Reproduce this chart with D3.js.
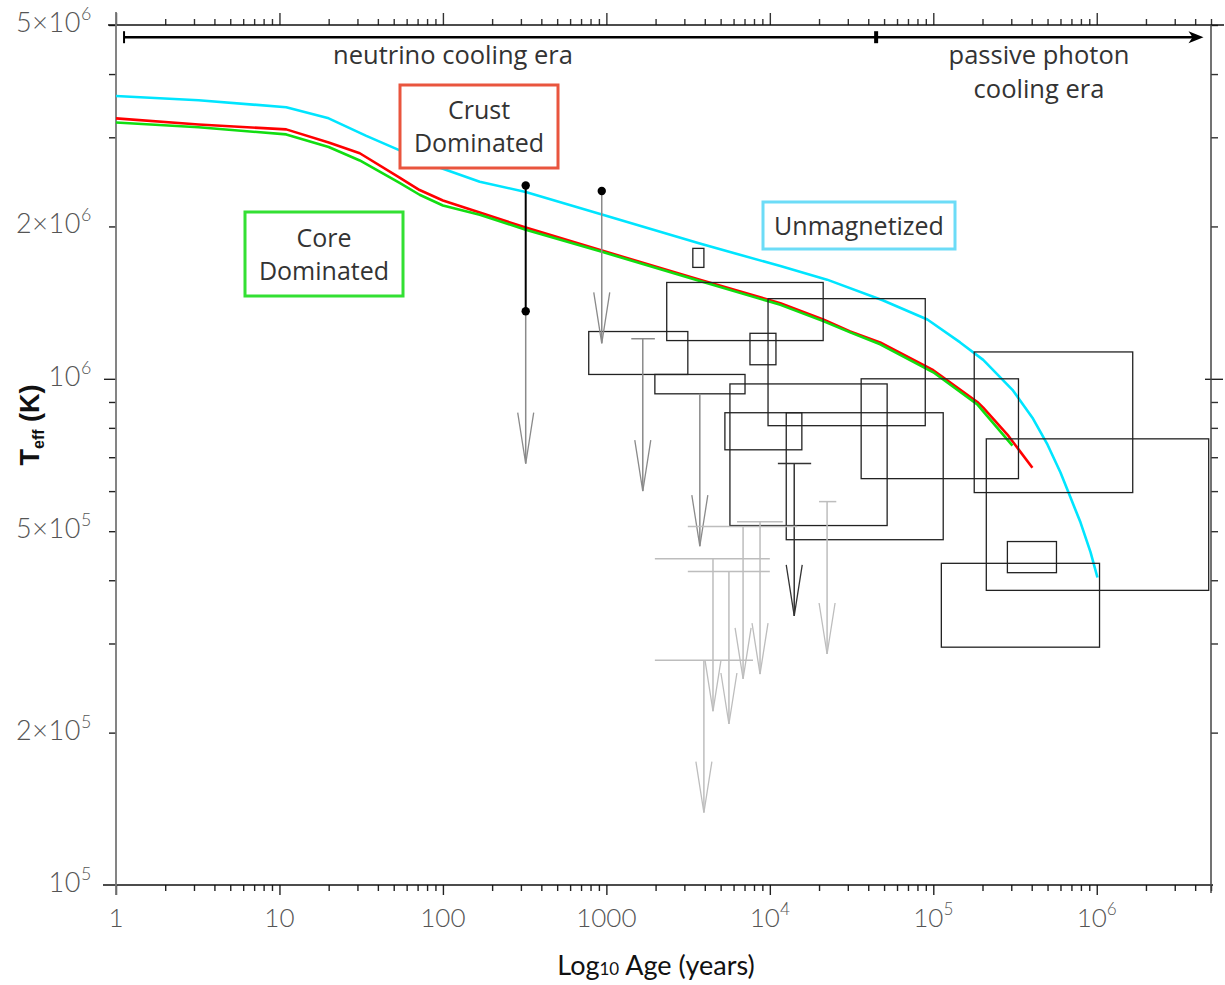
<!DOCTYPE html>
<html><head><meta charset="utf-8">
<script src="https://cdn.jsdelivr.net/npm/d3@7"></script>
<style>body{margin:0;background:#fff}</style>
</head><body>
<svg id="c" width="1225" height="985"></svg>
<script>
// ---------- data ----------
const unmagAge = [1, 3.2, 11, 20, 34, 54, 72, 100, 168, 321, 950, 3730, 11600, 22400, 49000, 92000, 146000, 202000, 305000, 404000, 500000, 600000, 672000, 796000, 917000, 1010000];
const unmagT   = [3.62e6, 3.55e6, 3.44e6, 3.27e6, 3.02e6, 2.83e6, 2.70e6, 2.60e6, 2.45e6, 2.34e6, 2.11e6, 1.85e6, 1.67e6, 1.57e6, 1.43e6, 1.31e6, 1.18e6, 1.09e6, 9.51e5, 8.38e5, 7.41e5, 6.53e5, 5.96e5, 5.2e5, 4.54e5, 4.05e5];

const crustAge = [1, 3.2, 11, 20, 31, 54, 72, 100, 168, 321, 950, 3730, 11600, 21200, 31000, 47300, 100000, 186000, 202000, 284000, 404000];
const crustT   = [3.27e6, 3.18e6, 3.11e6, 2.93e6, 2.79e6, 2.50e6, 2.36e6, 2.25e6, 2.13e6, 1.99e6, 1.79e6, 1.57e6, 1.41e6, 1.31e6, 1.24e6, 1.18e6, 1.04e6, 9.0e5, 8.77e5, 7.76e5, 6.67e5];

const coreAge = [1, 3.2, 11, 20, 31, 54, 72, 100, 168, 321, 950, 3730, 11600, 21200, 31000, 47300, 100000, 186000, 202000, 305000];
const coreT   = [3.21e6, 3.14e6, 3.04e6, 2.87e6, 2.70e6, 2.44e6, 2.31e6, 2.20e6, 2.11e6, 1.97e6, 1.78e6, 1.56e6, 1.40e6, 1.30e6, 1.235e6, 1.17e6, 1.03e6, 8.9e5, 8.62e5, 7.38e5];

// error boxes: age range and temperature range
const boxAgeLo = [3380, 2340, 780, 1980, 7560, 9750, 5700, 5310, 12600, 36200, 178000, 211000, 284000, 112000];
const boxAgeHi = [3950, 21200, 3150, 7050, 10900, 89300, 52200, 15700, 115000, 332000, 1660000, 4840000, 567000, 1040000];
const boxTLo   = [1.66e6, 1.19e6, 1.02e6, 9.34e5, 1.066e6, 8.08e5, 5.13e5, 7.24e5, 4.81e5, 6.35e5, 5.96e5, 3.82e5, 4.14e5, 2.95e5];
const boxTHi   = [1.81e6, 1.55e6, 1.24e6, 1.02e6, 1.23e6, 1.44e6, 9.77e5, 8.57e5, 8.57e5, 1.0e6, 1.13e6, 7.61e5, 4.77e5, 4.32e5];

// upper limits: age, age bar range (0 = none), temperature limit, shade class
const limAge   = [321, 937, 1670, 3730, 14100, 22400, 8710, 6860, 4490, 5620, 3950];
const limAgeLo = [0, 0, 1420, 0, 11200, 20000, 6300, 3150, 1980, 3150, 1980];
const limAgeHi = [0, 0, 1980, 0, 17900, 25500, 12000, 14700, 10000, 10000, 7890];
const limT     = [1.36e6, 2.35e6, 1.2e6, 9.34e5, 6.8e5, 5.72e5, 5.22e5, 5.11e5, 4.41e5, 4.16e5, 2.78e5];
const limShade = ["mid", "mid", "mid", "mid", "dark", "light", "light", "light", "light", "light", "light"];

// measured range with end points
const measAge = [321];
const measTLo = [1.36e6];
const measTHi = [2.41e6];
// single measured dot (top of limit)
const dotAge = [937];
const dotT = [2.35e6];

// axis ticks
const xTickValues = [1, 10, 100, 1000, 1e4, 1e5, 1e6];
const xTickLabels = ["1", "10", "100", "1000", "10^4", "10^5", "10^6"];
const yTickValues = [1e5, 2e5, 5e5, 1e6, 2e6, 5e6];
const yTickLabels = ["10^5", "2×10^5", "5×10^5", "10^6", "2×10^6", "5×10^6"];

// era markers
const eraStart = 1.12, eraSplit = 4.47e4, eraEnd = 4.5e6, eraT = 4.73e6;

// ---------- drawing ----------
const svg = d3.select("#c");
const x = d3.scaleLog().domain([1, 5e6]).range([116, 1211]);
const y = d3.scaleLog().domain([1e5, 5e6]).range([885, 25]);
const shade = d3.scaleOrdinal().domain(["dark", "mid", "light"]).range(["#333", "#8a8a8a", "#bdbdbd"]);
const tickFont = "Lato, 'Open Sans', sans-serif";

// minor tick lists
const xMinor = [];
for (let k = 0; k <= 6; k++) for (let m = 2; m <= 9; m++) { const v = m * Math.pow(10, k); if (v <= 5e6) xMinor.push(v); }
const yMinor = [];
for (let k = 5; k <= 6; k++) for (let m = 2; m <= 9; m++) { const v = m * Math.pow(10, k); if (v <= 5e6) yMinor.push(v); }

function styleAxis(g, color) {
  g.select(".domain").remove();
  g.selectAll("line").attr("stroke", color).attr("stroke-width", 1.4);
  g.selectAll("text").remove();
}
svg.append("g").attr("transform", "translate(0,885)")
  .call(d3.axisBottom(x).tickValues(xTickValues).tickSize(10).tickFormat(""))
  .call(g => styleAxis(g, "#222"));
svg.append("g").attr("transform", "translate(0,885)")
  .call(d3.axisBottom(x).tickValues(xMinor).tickSize(6).tickFormat(""))
  .call(g => styleAxis(g, "#222"));
svg.append("g").attr("transform", "translate(0,25)")
  .call(d3.axisTop(x).tickValues(xTickValues).tickSize(12).tickFormat(""))
  .call(g => styleAxis(g, "#333"));
svg.append("g").attr("transform", "translate(0,25)")
  .call(d3.axisTop(x).tickValues(xMinor).tickSize(6).tickFormat(""))
  .call(g => styleAxis(g, "#333"));
svg.append("g").attr("transform", "translate(116,0)")
  .call(d3.axisLeft(y).tickValues([1e6]).tickSize(12).tickFormat(""))
  .call(g => styleAxis(g, "#222"));
svg.append("g").attr("transform", "translate(116,0)")
  .call(d3.axisLeft(y).tickValues(yMinor).tickSize(7).tickFormat(""))
  .call(g => styleAxis(g, "#222"));
svg.append("g").attr("transform", "translate(1211,0)")
  .call(d3.axisRight(y).tickValues(yMinor).tickSize(7).tickFormat(""))
  .call(g => styleAxis(g, "#333"));
svg.append("g").attr("transform", "translate(1205,0)")
  .call(d3.axisRight(y).tickValues([1e6]).tickSize(18).tickFormat(""))
  .call(g => styleAxis(g, "#222"));

// spines
svg.append("line").attr("x1", 103).attr("x2", 1213).attr("y1", 885).attr("y2", 885).attr("stroke", "#111").attr("stroke-width", 1.5);
svg.append("line").attr("x1", 108).attr("x2", 1224).attr("y1", 25).attr("y2", 25).attr("stroke", "#111").attr("stroke-width", 1.5);
svg.append("line").attr("x1", 116).attr("x2", 116).attr("y1", 12).attr("y2", 895).attr("stroke", "#777").attr("stroke-width", 1.8);
svg.append("line").attr("x1", 1211).attr("x2", 1211).attr("y1", 25).attr("y2", 893).attr("stroke", "#444").attr("stroke-width", 1.5);

// tick labels with superscripts
function supLabel(sel, s, baseSize) {
  const parts = s.split("^");
  sel.append("tspan").text(parts[0]);
  if (parts[1]) sel.append("tspan").attr("dy", -12).attr("font-size", baseSize * 0.66).text(parts[1]);
}
xTickValues.forEach((v, i) => {
  const t = svg.append("text").attr("x", x(v)).attr("y", 927).attr("text-anchor", "middle")
    .attr("font-family", tickFont).attr("font-weight", 300).attr("font-size", 26).attr("fill", "#555");
  supLabel(t, xTickLabels[i], 26);
});
yTickValues.forEach((v, i) => {
  const t = svg.append("text").attr("x", 92).attr("y", y(v) + 7).attr("text-anchor", "end")
    .attr("font-family", tickFont).attr("font-weight", 300).attr("font-size", 27).attr("fill", "#555")
    .attr("letter-spacing", 0.6);
  supLabel(t, yTickLabels[i], 27);
});

// axis titles
const yt = svg.append("text").attr("transform", "translate(39,425) rotate(-90)").attr("text-anchor", "middle")
  .attr("font-family", "'Liberation Sans', Arial, sans-serif").attr("font-weight", "bold").attr("font-size", 27).attr("fill", "#111");
yt.append("tspan").text("T");
yt.append("tspan").attr("font-size", 16).attr("dy", 5).text("eff");
yt.append("tspan").attr("dy", -5).text(" (K)");

const xt = svg.append("text").attr("x", 656).attr("y", 975).attr("text-anchor", "middle")
  .attr("font-family", "Lato, 'Open Sans', sans-serif").attr("font-size", 27).attr("fill", "#111");
xt.append("tspan").text("Log");
xt.append("tspan").attr("font-size", 17).text("10");
xt.append("tspan").text(" Age (years)");

// curves
const line = d3.line().x(d => x(d[0])).y(d => y(d[1]));
const curves = [
  { age: unmagAge, T: unmagT, color: "#00e5ff" },
  { age: crustAge, T: crustT, color: "#ff0000" },
  { age: coreAge, T: coreT, color: "#11dd11" }
];
curves.forEach(c => {
  svg.append("path").datum(c.age.map((a, i) => [a, c.T[i]]))
    .attr("d", line).attr("fill", "none").attr("stroke", c.color).attr("stroke-width", 2.6).attr("stroke-linejoin", "round");
});

// error boxes
svg.append("g").selectAll("rect").data(boxAgeLo.map((a, i) => i)).join("rect")
  .attr("x", i => x(boxAgeLo[i])).attr("width", i => x(boxAgeHi[i]) - x(boxAgeLo[i]))
  .attr("y", i => y(boxTHi[i])).attr("height", i => y(boxTLo[i]) - y(boxTHi[i]))
  .attr("fill", "none").attr("stroke", "#222").attr("stroke-width", 1.3);

// upper limits
const lim = svg.append("g");
limAge.forEach((a, i) => {
  const c = shade(limShade[i]);
  const px = x(a), top = y(limT[i]), tip = y(limT[i] / 2);
  lim.append("line").attr("x1", px).attr("x2", px).attr("y1", top).attr("y2", tip).attr("stroke", c).attr("stroke-width", 1.5);
  if (limAgeLo[i] > 0) {
    lim.append("line").attr("x1", x(limAgeLo[i])).attr("x2", x(limAgeHi[i])).attr("y1", top).attr("y2", top).attr("stroke", c).attr("stroke-width", 1.5);
  }
  lim.append("path").attr("d", `M${px - 8},${tip - 51}L${px},${tip}L${px + 8},${tip - 51}`)
    .attr("fill", "none").attr("stroke", c).attr("stroke-width", 1.3);
});

// measured range
measAge.forEach((a, i) => {
  svg.append("line").attr("x1", x(a)).attr("x2", x(a)).attr("y1", y(measTHi[i])).attr("y2", y(measTLo[i])).attr("stroke", "#000").attr("stroke-width", 2);
  [measTLo[i], measTHi[i]].forEach(t => svg.append("circle").attr("cx", x(a)).attr("cy", y(t)).attr("r", 4.2).attr("fill", "#000"));
});
dotAge.forEach((a, i) => svg.append("circle").attr("cx", x(a)).attr("cy", y(dotT[i])).attr("r", 4.2).attr("fill", "#000"));

// era arrow
const ey = y(eraT);
svg.append("line").attr("x1", x(eraStart)).attr("x2", x(eraEnd) - 6).attr("y1", ey).attr("y2", ey).attr("stroke", "#000").attr("stroke-width", 2.5);
svg.append("line").attr("x1", x(eraStart)).attr("x2", x(eraStart)).attr("y1", ey - 6).attr("y2", ey + 6).attr("stroke", "#000").attr("stroke-width", 2);
svg.append("line").attr("x1", x(eraSplit)).attr("x2", x(eraSplit)).attr("y1", ey - 6).attr("y2", ey + 6).attr("stroke", "#000").attr("stroke-width", 4);
svg.append("path").attr("d", `M${x(eraEnd)},${ey}L${x(eraEnd) - 15},${ey - 6}L${x(eraEnd) - 11},${ey}L${x(eraEnd) - 15},${ey + 6}Z`).attr("fill", "#000");

const annFont = "'Open Sans', sans-serif";
function txt(xx, yy, s, size, fam) {
  svg.append("text").attr("x", xx).attr("y", yy).attr("text-anchor", "middle").attr("font-family", fam || annFont)
    .attr("font-size", size).attr("fill", "#333").text(s);
}
txt(453, 64, "neutrino cooling era", 25.5);
txt(1039, 64, "passive photon", 25.5);
txt(1039, 98, "cooling era", 25.5);

// labelled boxes
const labels = [
  { cx: 479, cy: 126.5, w: 158, h: 83, color: "#e9553e", lines: ["Crust", "Dominated"] },
  { cx: 324, cy: 254, w: 158, h: 84, color: "#33e033", lines: ["Core", "Dominated"] },
  { cx: 859, cy: 225.5, w: 192, h: 47, color: "#6cdcf7", lines: ["Unmagnetized"] }
];
labels.forEach(l => {
  svg.append("rect").attr("x", l.cx - l.w / 2).attr("y", l.cy - l.h / 2).attr("width", l.w).attr("height", l.h)
    .attr("fill", "#fff").attr("stroke", l.color).attr("stroke-width", 3);
  const n = l.lines.length;
  l.lines.forEach((s, k) => txt(l.cx, l.cy + 9 + (k - (n - 1) / 2) * 33, s, 25, annFont));
});
</script>
</body></html>
